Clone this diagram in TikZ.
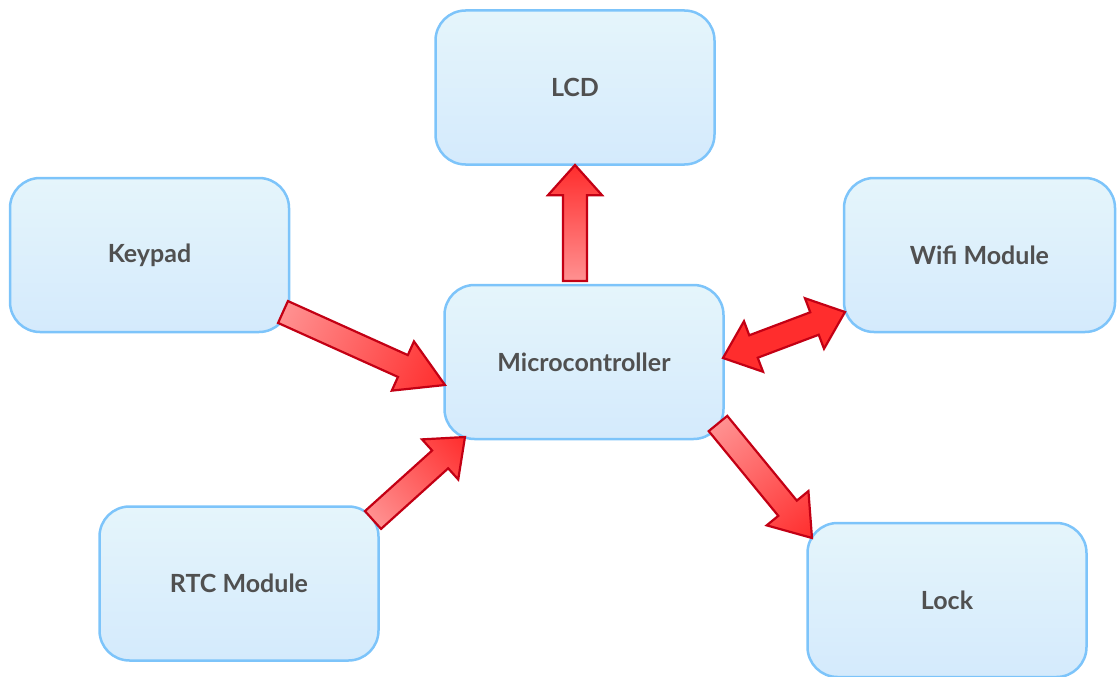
\documentclass[tikz,border=0pt]{standalone}
\usepackage{fontspec}
\setmainfont{Lato}
\definecolor{boxline}{RGB}{125,196,250}
\definecolor{boxtop}{RGB}{229,245,251}
\definecolor{boxbot}{RGB}{212,234,252}
\definecolor{boxtext}{RGB}{80,80,80}
\definecolor{arrlight}{RGB}{255,145,145}
\definecolor{arrdark}{RGB}{255,45,45}
\definecolor{arrline}{RGB}{195,0,20}
\tikzset{
  blockbox/.style={draw=boxline, line width=2.5pt, rounded corners=30pt,
    top color=boxtop, bottom color=boxbot, minimum width=279pt, minimum height=154pt,
    inner sep=0pt, outer sep=0pt, text=boxtext, font=\bfseries\fontsize{25}{30}\selectfont},
  fatarrowstyle/.style={draw=arrline, line width=2.2pt, line join=miter,
    left color=arrlight, right color=arrdark},
  fatdoublestyle/.style={draw=arrline, line width=2.2pt, line join=miter,
    left color=arrdark, middle color=arrlight!70!arrdark, right color=arrdark},
}
\newcommand\fatarrow[3]{%
  \path (#2); \pgfgetlastxy{\faXa}{\faYa}
  \path (#3); \pgfgetlastxy{\faXb}{\faYb}
  \pgfmathsetmacro\faAng{atan2((\faYb)-(\faYa),(\faXb)-(\faXa))}
  \pgfmathsetmacro\faLen{veclen((\faXb)-(\faXa),(\faYb)-(\faYa))}
  \pgfmathsetmacro\faHead{#1*\faLen}
  \pgfmathsetmacro\faNeck{\faLen-\faHead}
  \begin{scope}[transform canvas={shift={(\faXa,\faYa)},rotate=\faAng}]
    \path[fatarrowstyle] (0pt,12pt) -- (\faNeck pt,12pt) -- (\faNeck pt,27pt) -- (\faLen pt,0pt)
      -- (\faNeck pt,-27pt) -- (\faNeck pt,-12pt) -- (0pt,-12pt) -- cycle;
  \end{scope}}
\newcommand\fatdoublearrow[3]{%
  \path (#2); \pgfgetlastxy{\faXa}{\faYa}
  \path (#3); \pgfgetlastxy{\faXb}{\faYb}
  \pgfmathsetmacro\faAng{atan2((\faYb)-(\faYa),(\faXb)-(\faXa))}
  \pgfmathsetmacro\faLen{veclen((\faXb)-(\faXa),(\faYb)-(\faYa))}
  \pgfmathsetmacro\faHead{#1*\faLen}
  \pgfmathsetmacro\faNeck{\faLen-\faHead}
  \begin{scope}[transform canvas={shift={(\faXa,\faYa)},rotate=\faAng}]
    \path[fatdoublestyle] (0pt,0pt) -- (\faHead pt,27pt) -- (\faHead pt,12pt) -- (\faNeck pt,12pt)
      -- (\faNeck pt,27pt) -- (\faLen pt,0pt) -- (\faNeck pt,-27pt) -- (\faNeck pt,-12pt)
      -- (\faHead pt,-12pt) -- (\faHead pt,-27pt) -- cycle;
  \end{scope}}
\begin{document}
\begin{tikzpicture}[x=1pt,y=-1pt]
\useasboundingbox (0,0) rectangle (1117,677);
\node[blockbox] (lcd) at (575,87.5) {LCD};
\node[blockbox] (keypad) at (149.5,255) {Keypad};
\node[blockbox, minimum width=271pt] (wifi) at (979.5,255) {Wifi Module};
\node[blockbox] (micro) at (584,362) {Microcontroller};
\node[blockbox] (rtc) at (239,583.5) {RTC Module};
\node[blockbox] (lock) at (947,600) {Lock};
\coordinate (kpT) at (283,312);   \coordinate (kpH) at (445,385);
\coordinate (lcdT) at (575,281);  \coordinate (lcdH) at (575,165);
\coordinate (wfA) at (723,358);   \coordinate (wfB) at (845,312);
\coordinate (lkT) at (718,423.5); \coordinate (lkH) at (812,538);
\coordinate (rtT) at (373,520);   \coordinate (rtH) at (465,437);
\fatarrow{0.26}{kpT}{kpH}
\fatarrow{0.26}{lcdT}{lcdH}
\fatarrow{0.26}{lkT}{lkH}
\fatarrow{0.27}{rtT}{rtH}
\fatdoublearrow{0.25}{wfA}{wfB}
\end{tikzpicture}
\end{document}
